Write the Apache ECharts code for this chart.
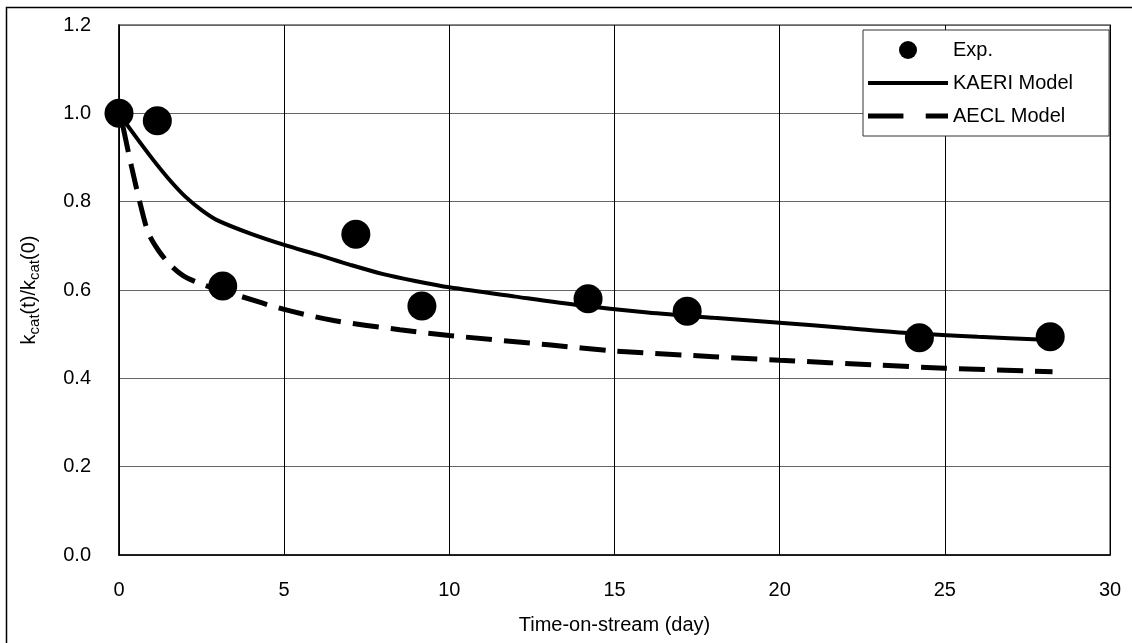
<!DOCTYPE html>
<html>
<head>
<meta charset="utf-8">
<script src="https://cdn.jsdelivr.net/npm/echarts@6/dist/echarts.min.js"></script>
<style>
  html, body { margin: 0; padding: 0; background: #fff; }
  #chart { width: 1132px; height: 643px; }
</style>
</head>
<body>
<div id="chart"></div>
<script>
// 실험값 (Exp.)
const expData = [
    [0.0, 1.0], [1.16, 0.983], [3.14, 0.609], [7.17, 0.726], [9.17, 0.564],
    [14.2, 0.580], [17.2, 0.552], [24.23, 0.492], [28.19, 0.494]
];

// KAERI Model 곡선
const kaeriX = [0, 0.4, 1, 1.5, 2, 2.5, 3, 4, 5, 6, 7, 8, 9, 10, 12, 14, 16, 18, 20, 22, 24, 26, 28.2];
const kaeriY = [1.0, 0.958, 0.898, 0.852, 0.812, 0.781, 0.757, 0.727, 0.702, 0.68, 0.657, 0.636, 0.62, 0.606,
    0.585, 0.565, 0.549, 0.537, 0.526, 0.514, 0.502, 0.494, 0.487];

// AECL Model 곡선
const aeclX = [0.12, 0.38, 0.64, 0.89, 1.19, 1.55, 1.95, 2.45, 3, 3.67, 5, 6.5, 8.5, 10, 13, 15, 18, 20, 23, 25, 28.26];
const aeclY = [0.97, 0.879, 0.796, 0.729, 0.69, 0.657, 0.632, 0.615, 0.601, 0.586, 0.556, 0.531, 0.51,
    0.497, 0.476, 0.462, 0.449, 0.441, 0.43, 0.423, 0.415];

function pairs(xs, ys) {
    return xs.map((x, i) => [x, ys[i]]);
}

const font = 'Liberation Sans, Arial, sans-serif';

let myChart = echarts.init(document.getElementById('chart'));
let option = {
    backgroundColor: '#fff',
    animation: false,
    textStyle: { fontFamily: font },
    graphic: [{
        type: 'rect',
        shape: { x: 6.5, y: 7.5, width: 1200, height: 700 },
        style: { fill: 'none', stroke: '#000', lineWidth: 1.5 },
        silent: true
    }],
    grid: {
        left: 119, top: 25, right: 22, bottom: 88,
        show: true, borderColor: '#888', borderWidth: 2
    },
    legend: {
        orient: 'vertical',
        left: 863, top: 30,
        padding: [10, 36, 10, 5],
        backgroundColor: '#fff',
        borderColor: '#333',
        borderWidth: 1,
        borderRadius: 0,
        itemWidth: 80,
        itemHeight: 18,
        itemGap: 13,
        textStyle: { fontSize: 20, color: '#000', fontFamily: font },
        data: [
            { name: 'Exp.', icon: 'circle' },
            { name: 'KAERI Model', icon: 'path://M0,0H79V4H0Z' },
            { name: 'AECL Model', icon: 'path://M0,0H35V5H0Z M57,0H79V5H57Z' }
        ]
    },
    xAxis: {
        type: 'value',
        min: 0, max: 30, interval: 5,
        name: 'Time-on-stream (day)',
        nameLocation: 'middle',
        nameGap: 60,
        nameTextStyle: { fontSize: 20, color: '#000', fontFamily: font },
        axisLine: { lineStyle: { color: '#000', width: 1.5 } },
        axisTick: { show: false },
        axisLabel: { fontSize: 20, color: '#000', margin: 25, fontFamily: font },
        splitLine: { show: true, lineStyle: { color: '#000', width: 1 } }
    },
    yAxis: {
        type: 'value',
        min: 0, max: 1.2, interval: 0.2,
        name: '{n|k}{s|cat}{n|(t)/k}{s|cat}{n|(0)}',
        nameLocation: 'middle',
        nameRotate: 90,
        nameGap: 77,
        nameTextStyle: {
            color: '#000',
            rich: {
                n: { fontSize: 20, fontFamily: font, color: '#000', verticalAlign: 'middle', lineHeight: 26 },
                s: { fontSize: 15, fontFamily: font, color: '#000', verticalAlign: 'bottom', lineHeight: 26 }
            }
        },
        axisLine: { show: true, lineStyle: { color: '#000', width: 1.5 } },
        axisTick: { show: false },
        axisLabel: {
            fontSize: 20, color: '#000', margin: 28, fontFamily: font,
            formatter: (v) => v.toFixed(1)
        },
        splitLine: { show: true, lineStyle: { color: '#666', width: 1 } }
    },
    series: [
        {
            name: 'KAERI Model',
            type: 'line',
            data: pairs(kaeriX, kaeriY),
            smooth: 0.3,
            symbol: 'none',
            z: 3,
            lineStyle: { color: '#000', width: 4 },
            itemStyle: { color: '#000' }
        },
        {
            name: 'AECL Model',
            type: 'line',
            data: pairs(aeclX, aeclY),
            smooth: 0.3,
            symbol: 'none',
            z: 3,
            lineStyle: { color: '#000', width: 5, type: [26, 12] },
            itemStyle: { color: '#000' }
        },
        {
            name: 'Exp.',
            type: 'scatter',
            data: expData,
            symbol: 'circle',
            symbolSize: 29,
            z: 5,
            itemStyle: { color: '#000', opacity: 1 }
        }
    ]
};

option && myChart.setOption(option);
</script>
</body>
</html>
